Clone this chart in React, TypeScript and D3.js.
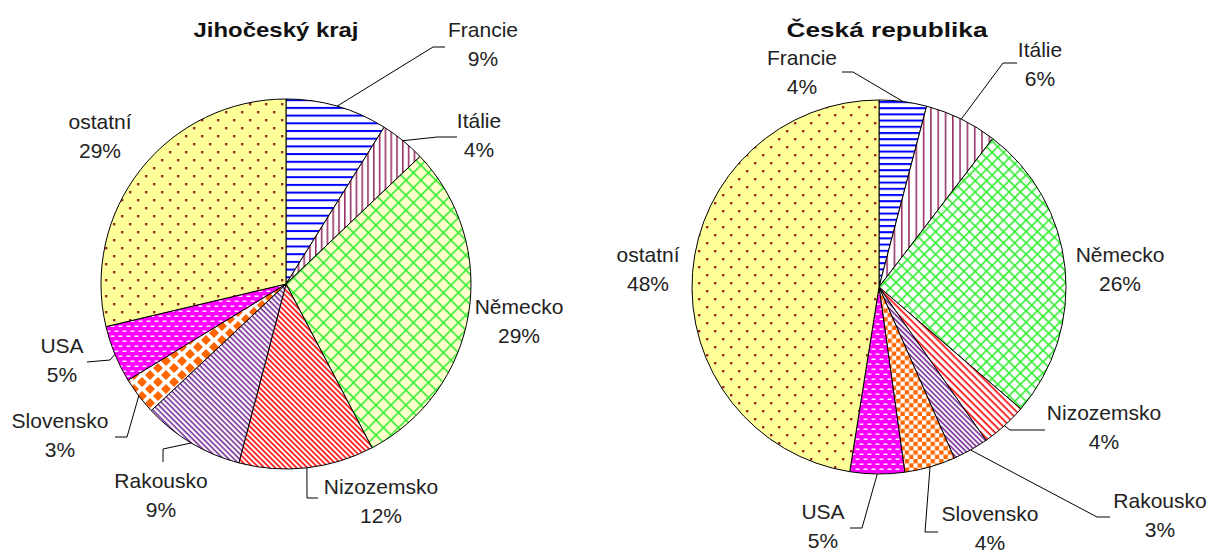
import React from "react";
import * as d3 from "d3";

const countries = ["Francie", "Itálie", "Německo", "Nizozemsko", "Rakousko", "Slovensko", "USA", "ostatní"];
const leftValues = [8.9, 4.0, 29.4, 11.8, 8.9, 3.3, 5.0, 28.7];
const rightValues = [4.1, 6.3, 25.9, 4.0, 3.1, 4.4, 4.7, 47.5];
const titles = ["Jihočeský kraj", "Česká republika"];

// layout (positions of labels, leader elbows/ends)
type Lbl = { x: number; y: number; end?: [number, number]; elbow?: [number, number] };
const leftLayout: Lbl[] = [
  { x: 483, y: 37, end: [445, 47], elbow: [433, 47] },
  { x: 479, y: 128, end: [457, 137], elbow: [437, 137] },
  { x: 519, y: 314 },
  { x: 381, y: 494, end: [318, 498], elbow: [307, 498] },
  { x: 161, y: 488, end: [163, 462], elbow: [163, 449] },
  { x: 60, y: 428, end: [115, 437], elbow: [127, 437] },
  { x: 62, y: 353, end: [87, 362], elbow: [110, 360] },
  { x: 100, y: 129 },
];
const rightLayout: Lbl[] = [
  { x: 802, y: 65, end: [842, 72], elbow: [853, 72] },
  { x: 1040, y: 57, end: [1017, 63], elbow: [1003, 63] },
  { x: 1120, y: 262 },
  { x: 1104, y: 420, end: [1045, 430], elbow: [1010, 430] },
  { x: 1160, y: 508, end: [1110, 517], elbow: [1097, 517] },
  { x: 990, y: 521, end: [938, 532], elbow: [925, 532] },
  { x: 823, y: 519, end: [850, 528], elbow: [862, 528] },
  { x: 648, y: 262 },
];

type Cfg = {
  id: string;
  franPeriod: number;
  italPeriod: number;
  nemSize: number;
  nemBg: string;
  nizPeriod: number;
  rakPeriod: number;
  checker: "diamond" | "square";
};

const leftCfg: Cfg = { id: "L", franPeriod: 7.7, italPeriod: 5.8, nemSize: 10.6, nemBg: "#FFFFCC", nizPeriod: 3.8, rakPeriod: 3.8, checker: "diamond" };
const rightCfg: Cfg = { id: "R", franPeriod: 6.2, italPeriod: 7.3, nemSize: 8, nemBg: "#FFFFFF", nizPeriod: 5, rakPeriod: 3.6, checker: "square" };

function Patterns({ c }: { c: Cfg }) {
  const p = c.id;
  return (
    <>
      <pattern id={`${p}0`} patternUnits="userSpaceOnUse" width={8} height={c.franPeriod}>
        <rect width={8} height={c.franPeriod} fill="#fff" />
        <rect y={0} width={8} height={2} fill="#0000FF" />
      </pattern>
      <pattern id={`${p}1`} patternUnits="userSpaceOnUse" width={c.italPeriod} height={8}>
        <rect width={c.italPeriod} height={8} fill="#fff" />
        <rect x={0} width={1.6} height={8} fill="#993366" />
      </pattern>
      <pattern id={`${p}2`} patternUnits="userSpaceOnUse" width={c.nemSize} height={c.nemSize} patternTransform="rotate(45)">
        <rect width={c.nemSize} height={c.nemSize} fill={c.nemBg} />
        <rect width={c.nemSize} height={1.6} fill="#33EE33" />
        <rect width={1.6} height={c.nemSize} fill="#33EE33" />
      </pattern>
      <pattern id={`${p}3`} patternUnits="userSpaceOnUse" width={c.nizPeriod} height={c.nizPeriod} patternTransform="rotate(45)">
        <rect width={c.nizPeriod} height={c.nizPeriod} fill="#fff" />
        <rect width={c.nizPeriod} height={1.7} fill="#FF1010" />
      </pattern>
      <pattern id={`${p}4`} patternUnits="userSpaceOnUse" width={c.rakPeriod} height={c.rakPeriod} patternTransform="rotate(45)">
        <rect width={c.rakPeriod} height={c.rakPeriod} fill="#fff" />
        <rect width={c.rakPeriod} height={1.6} fill="#7A2E9A" />
      </pattern>
      {c.checker === "diamond" ? (
        <pattern id={`${p}5`} patternUnits="userSpaceOnUse" width={16} height={14}>
          <rect width={16} height={14} fill="#fff" />
          <path
            d="M8,2 L13,7 L8,12 L3,7 Z M0,-5 L5,0 L0,5 L-5,0 Z M16,-5 L21,0 L16,5 L11,0 Z M0,9 L5,14 L0,19 L-5,14 Z M16,9 L21,14 L16,19 L11,14 Z"
            fill="#FF6600"
          />
        </pattern>
      ) : (
        <pattern id={`${p}5`} patternUnits="userSpaceOnUse" width={8.6} height={8.6}>
          <rect width={8.6} height={8.6} fill="#fff" />
          <rect width={4.3} height={4.3} fill="#FF6600" />
          <rect x={4.3} y={4.3} width={4.3} height={4.3} fill="#FF6600" />
        </pattern>
      )}
      <pattern id={`${p}6`} patternUnits="userSpaceOnUse" width={8} height={10}>
        <rect width={8} height={10} fill="#FF00FF" />
        <rect x={0.5} y={1.5} width={4} height={1.4} fill="#fff" />
        <rect x={4.5} y={6.5} width={4} height={1.4} fill="#fff" />
        <rect x={-3.5} y={6.5} width={4} height={1.4} fill="#fff" />
      </pattern>
      <pattern id={`${p}7`} patternUnits="userSpaceOnUse" width={16} height={16}>
        <rect width={16} height={16} fill="#FFFF99" />
        <rect x={3} y={3} width={2.4} height={2.4} fill="#9B2D20" />
        <rect x={11} y={11} width={2.4} height={2.4} fill="#9B2D20" />
      </pattern>
    </>
  );
}

const FONT = "'Liberation Sans', Arial, sans-serif";

function PieChart({ values, cx, cy, r, cfg, layout, title, titleX, titleW }: {
  values: number[]; cx: number; cy: number; r: number; cfg: Cfg; layout: Lbl[]; title: string; titleX: number; titleW: number;
}) {
  const pie = d3.pie<number>().sort(null).value((d) => d);
  const arcs = pie(values);
  const arc = d3.arc<d3.PieArcDatum<number>>().innerRadius(0).outerRadius(r);
  const edge = d3.arc<d3.PieArcDatum<number>>().innerRadius(r).outerRadius(r);
  return (
    <g>
      <text x={titleX} y={37} textAnchor="middle" fontFamily={FONT} fontWeight="bold" fontSize={21}
        textLength={titleW} lengthAdjust="spacingAndGlyphs" fill="#111">{title}</text>
      <g transform={`translate(${cx},${cy})`}>
        {arcs.map((a, i) => (
          <path key={i} d={arc(a) || ""} fill={`url(#${cfg.id}${i})`} stroke="#000" strokeWidth={1} strokeLinejoin="round" />
        ))}
      </g>
      {arcs.map((a, i) => {
        const L = layout[i];
        const [ex, ey] = edge.centroid(a);
        const pts = L.end && L.elbow ? [[cx + ex, cy + ey], L.elbow, L.end] : null;
        return (
          <g key={i}>
            {pts && (
              <polyline points={pts.map((p) => p.join(",")).join(" ")} fill="none" stroke="#000" strokeWidth={1} />
            )}
            <text x={L.x} y={L.y} textAnchor="middle" fontFamily={FONT} fontSize={21} fill="#222">{countries[i]}</text>
            <text x={L.x} y={L.y + 29} textAnchor="middle" fontFamily={FONT} fontSize={21} fill="#222">{`${Math.round(values[i])}%`}</text>
          </g>
        );
      })}
    </g>
  );
}

export default function App() {
  return (
    <svg width={1208} height={554} style={{ position: "absolute", left: 0, top: 0, background: "#fff" }}>
      <defs>
        <Patterns c={leftCfg} />
        <Patterns c={rightCfg} />
      </defs>
      <PieChart values={leftValues} cx={286} cy={284} r={185} cfg={leftCfg} layout={leftLayout}
        title={titles[0]} titleX={276} titleW={165} />
      <PieChart values={rightValues} cx={879} cy={287} r={187} cfg={rightCfg} layout={rightLayout}
        title={titles[1]} titleX={887} titleW={201} />
    </svg>
  );
}
